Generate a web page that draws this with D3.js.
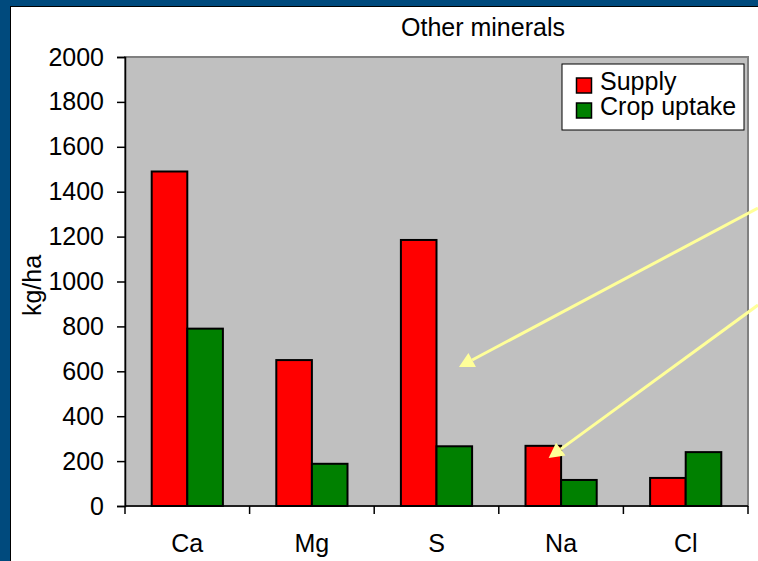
<!DOCTYPE html>
<html>
<head>
<meta charset="utf-8">
<script src="https://cdn.jsdelivr.net/npm/d3@7"></script>
<style>
  html, body { margin: 0; padding: 0; background: #fff; }
  svg { display: block; }
  text { font-family: "Liberation Sans", Arial, sans-serif; fill: #000; }
</style>
</head>
<body>
<svg id="chart" width="758" height="561"></svg>
<script>
// ---- data ----
const categories = ["Ca", "Mg", "S", "Na", "Cl"];
const supply = [1490, 650, 1185, 268, 125];
const uptake = [790, 188, 266, 116, 240];
const seriesNames = ["Supply", "Crop uptake"];
const seriesColors = ["#ff0000", "#008000"];
const yTicks = [0, 200, 400, 600, 800, 1000, 1200, 1400, 1600, 1800, 2000];
const titleText = "Other minerals";
const yLabel = "kg/ha";
// annotation arrows: start/end in (category-position, value) space
const arrowStartPos = [5.08, 5.08];
const arrowStartVal = [1327, 895];
const arrowEndPos = [2.68, 3.40];
const arrowEndVal = [619, 214];

// ---- layout ----
const W = 758, H = 561;
const FS = 25;
const plot = { left: 125, top: 57, right: 748, bottom: 506 };
const svg = d3.select("#chart");

// frame background
svg.append("rect").attr("x", 0).attr("y", 0).attr("width", W).attr("height", H).attr("fill", "#004a7d");
svg.append("rect").attr("x", 10).attr("y", 6).attr("width", W).attr("height", H).attr("fill", "#000");
svg.append("rect").attr("x", 11).attr("y", 7).attr("width", W).attr("height", H).attr("fill", "#fff");

const x = d3.scaleBand().domain(categories).range([plot.left, plot.right]).paddingInner(0).paddingOuter(0);
const xPos = d3.scaleLinear().domain([0, categories.length]).range([plot.left, plot.right]);
const y = d3.scaleLinear().domain([0, 2000]).range([plot.bottom, plot.top]);

// plot area
svg.append("rect")
  .attr("x", plot.left).attr("y", plot.top)
  .attr("width", plot.right - plot.left).attr("height", plot.bottom - plot.top)
  .attr("fill", "#c0c0c0").attr("stroke", "#808080").attr("stroke-width", 2);

// bars: gap width 150%
const bw = x.bandwidth() / 3.5;
const groupOffset = bw * 0.75;
const series = [supply, uptake];
series.forEach((vals, si) => {
  svg.append("g").selectAll("rect")
    .data(vals)
    .join("rect")
    .attr("x", (d, i) => x(categories[i]) + groupOffset + si * bw)
    .attr("y", d => y(d))
    .attr("width", bw)
    .attr("height", d => y(0) - y(d))
    .attr("fill", seriesColors[si])
    .attr("stroke", "#000")
    .attr("stroke-width", 2);
});

// y axis
const yAxis = d3.axisLeft(y).tickValues(yTicks).tickSize(8).tickPadding(13).tickFormat(d3.format("d"));
const gy = svg.append("g").attr("transform", `translate(${plot.left},0)`).call(yAxis);
gy.select(".domain").attr("stroke", "#000").attr("stroke-width", 1.5);
gy.selectAll(".tick line").attr("stroke", "#000").attr("stroke-width", 1.5);
gy.selectAll(".tick text").attr("font-size", FS).attr("font-family", '"Liberation Sans", Arial, sans-serif');

// x axis: boundary ticks + centered labels
const gx = svg.append("g").attr("transform", `translate(0,${plot.bottom})`);
gx.append("line").attr("x1", plot.left).attr("x2", plot.right).attr("y1", 0).attr("y2", 0)
  .attr("stroke", "#000").attr("stroke-width", 1.5);
gx.selectAll("line.tk").data(d3.range(categories.length + 1)).join("line")
  .attr("class", "tk")
  .attr("x1", d => xPos(d)).attr("x2", d => xPos(d))
  .attr("y1", 0).attr("y2", 8).attr("stroke", "#000").attr("stroke-width", 1.5);
gx.selectAll("text").data(categories).join("text")
  .attr("x", d => x(d) + x.bandwidth() / 2)
  .attr("y", 46)
  .attr("text-anchor", "middle")
  .attr("font-size", FS)
  .text(d => d);

// title
svg.append("text").attr("x", 483).attr("y", 36).attr("text-anchor", "middle")
  .attr("font-size", FS).text(titleText);

// y label
svg.append("text").attr("transform", `translate(41,${(plot.top + plot.bottom) / 2 + 4}) rotate(-90)`)
  .attr("text-anchor", "middle").attr("font-size", FS).text(yLabel);

// legend
const lg = svg.append("g").attr("transform", "translate(562,64)");
lg.append("rect").attr("x", 0).attr("y", 0).attr("width", 182).attr("height", 66)
  .attr("fill", "#fff").attr("stroke", "#000").attr("stroke-width", 1);
seriesNames.forEach((name, i) => {
  lg.append("rect").attr("x", 14.5).attr("y", 14 + i * 25).attr("width", 15).attr("height", 15)
    .attr("fill", seriesColors[i]).attr("stroke", "#000").attr("stroke-width", 1.5);
  lg.append("text").attr("x", 38).attr("y", 26 + i * 25).attr("font-size", FS).text(name);
});

// arrows
const arrowColor = "#ffff99";
arrowStartPos.forEach((sp, i) => {
  const x1 = xPos(sp), y1 = y(arrowStartVal[i]);
  const x2 = xPos(arrowEndPos[i]), y2 = y(arrowEndVal[i]);
  const ang = Math.atan2(y1 - y2, x1 - x2);
  const L = 15, hw = 8;
  const bx = x2 + L * Math.cos(ang), by = y2 + L * Math.sin(ang);
  svg.append("line").attr("x1", x1).attr("y1", y1).attr("x2", bx).attr("y2", by)
    .attr("stroke", arrowColor).attr("stroke-width", 3);
  const px = -Math.sin(ang) * hw, py = Math.cos(ang) * hw;
  svg.append("path")
    .attr("d", `M${x2},${y2}L${bx + px},${by + py}L${bx - px},${by - py}Z`)
    .attr("fill", arrowColor);
});
</script>
</body>
</html>
